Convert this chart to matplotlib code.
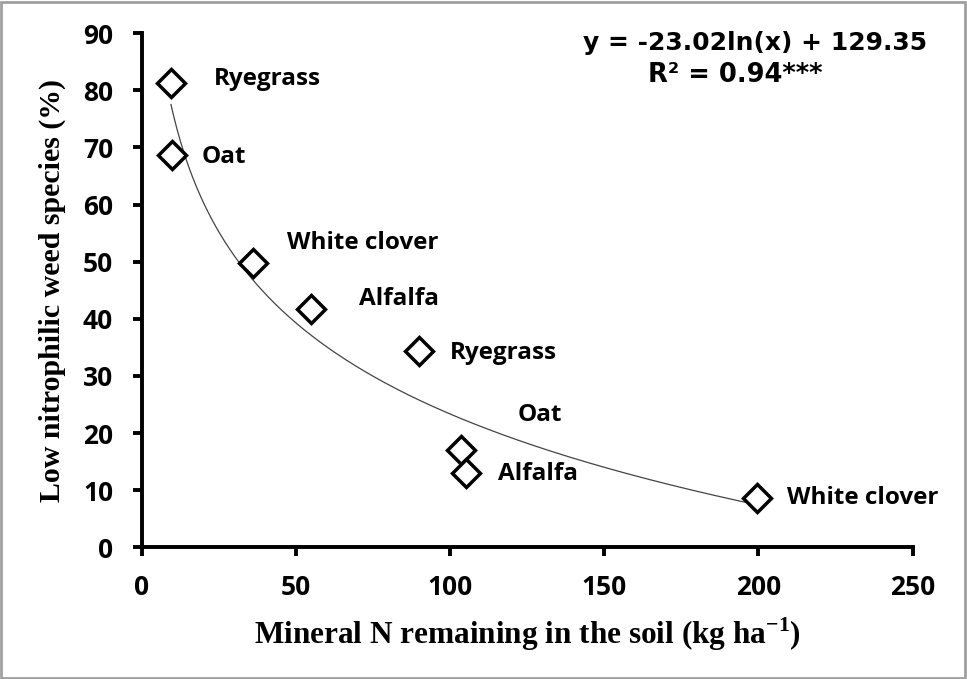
import numpy as np
import matplotlib
matplotlib.use('Agg')
import matplotlib.pyplot as plt
from matplotlib.patches import Rectangle

plt.rcParams['mathtext.fontset'] = 'custom'
plt.rcParams['mathtext.rm'] = 'Liberation Serif:bold'
plt.rcParams['mathtext.bf'] = 'Liberation Serif:bold'

# Mineral N left in soil vs share of low nitrophilic weeds, per cover crop
crops = ['Ryegrass', 'Oat', 'White clover', 'Alfalfa',
         'Ryegrass', 'Oat', 'Alfalfa', 'White clover']
mineral_n = [9.5, 9.9, 36.2, 54.8, 90.0, 103.5, 105.3, 199.5]
low_nitro = [81.3, 68.7, 49.7, 41.8, 34.3, 17.1, 13.0, 8.7]

# logarithmic trend line
a, b = -23.02, 129.35
r2 = 0.94

# label offsets (points) from each marker
label_dx = [31, 21, 24, 35, 22, 41, 23, 21.5]
label_dy = [3, -1.5, 14.5, 7, -1, 25, -1, 0]

fig = plt.figure(figsize=(9.67, 6.79), dpi=100)
ax = fig.add_axes([0.1465, 0.194, 0.7973, 0.757])

xs = np.linspace(9.5, 200, 300)
ax.plot(xs, a * np.log(xs) + b, color='#444444', lw=0.9, zorder=2)

ax.plot(mineral_n, low_nitro, linestyle='none', marker='D', markersize=14,
        markerfacecolor='white', markeredgecolor='black',
        markeredgewidth=2.5, zorder=3)

for name, x, y, dx, dy in zip(crops, mineral_n, low_nitro, label_dx, label_dy):
    ax.annotate(name, (x, y), xytext=(dx, dy), textcoords='offset points',
                ha='left', va='center', fontsize=17.5, fontweight='bold',
                family='Open Sans')

ax.text(0.7955, 0.981, f'y = {a}ln(x) + {b}', transform=ax.transAxes,
        ha='center', va='center', fontsize=18, fontweight='bold',
        family='DejaVu Sans')
ax.text(0.7695, 0.919, f'R² = {r2}***', transform=ax.transAxes,
        ha='center', va='center', fontsize=18.5, fontweight='bold',
        family='DejaVu Sans')

ax.set_xlim(0, 250)
ax.set_ylim(0, 90)
ax.set_xticks(range(0, 251, 50))
ax.set_yticks(range(0, 91, 10))
for s in ['top', 'right']:
    ax.spines[s].set_visible(False)
for s in ['left', 'bottom']:
    ax.spines[s].set_linewidth(2.8)
ax.tick_params(direction='out', length=6.5, width=2.8)
ax.tick_params(axis='y', pad=14)
ax.tick_params(axis='x', pad=13)
for lbl in ax.get_xticklabels() + ax.get_yticklabels():
    lbl.set_fontfamily('Open Sans')
    lbl.set_fontweight('bold')
    lbl.set_fontsize(19)

ax.set_xlabel('Mineral N remaining in the soil (kg ha$^{-1}$)',
              family='Liberation Serif', fontweight='bold', fontsize=22.5,
              labelpad=10)
ax.set_ylabel('Low nitrophilic weed species (%)',
              family='Liberation Serif', fontweight='bold', fontsize=21.5,
              labelpad=12)

# grey frame around the whole figure
fig.patches.append(Rectangle((0.001, 0.002), 0.997, 0.995, transform=fig.transFigure,
                             fill=False, edgecolor='#a0a0a0', linewidth=2))

fig.savefig('out.png', dpi=100)
